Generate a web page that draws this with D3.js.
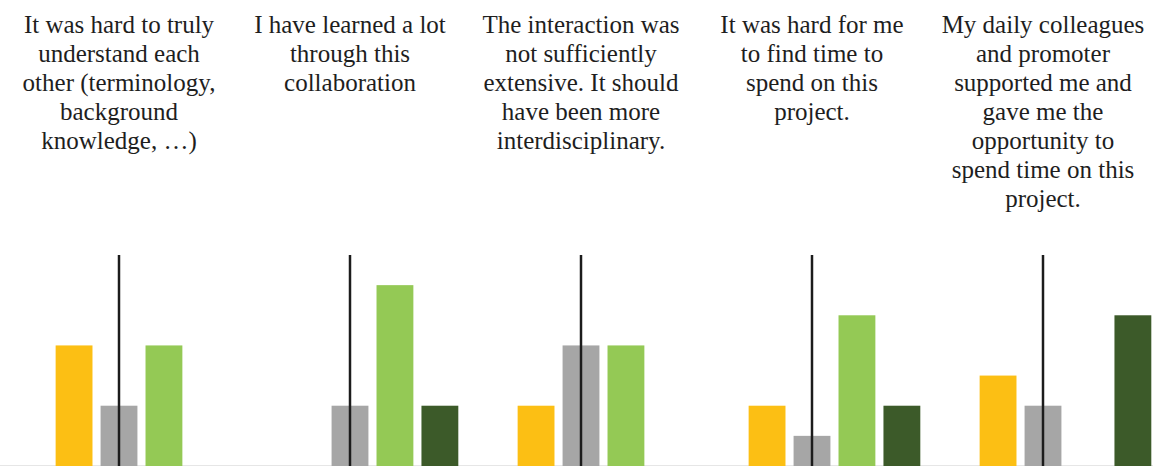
<!DOCTYPE html>
<html>
<head>
<meta charset="utf-8">
<script src="https://cdn.jsdelivr.net/npm/d3@7"></script>
<style>
  html, body { margin: 0; padding: 0; background: #ffffff; }
  svg { display: block; }
</style>
</head>
<body>
<svg id="chart" width="1153" height="466"></svg>
<script>
// Survey statements, one small multiple each (title split into display lines)
const statements = [
  ["It was hard to truly", "understand each", "other (terminology,", "background", "knowledge, …)"],
  ["I have learned a lot", "through this", "collaboration"],
  ["The interaction was", "not sufficiently", "extensive. It should", "have been more", "interdisciplinary."],
  ["It was hard for me", "to find time to", "spend on this", "project."],
  ["My daily colleagues", "and promoter", "supported me and", "gave me the", "opportunity to", "spend time on this", "project."]
];

// Likert answer categories and their colours
const answers = ["Strongly disagree", "Disagree", "Neutral", "Agree", "Strongly agree"];
const answerColors = ["#c0392b", "#fcbf14", "#a6a6a6", "#94c955", "#3c5a29"];

// Share of respondents (%) per answer, one row per statement
const q1 = [0, 40, 20, 40, 0];
const q2 = [0, 0, 20, 60, 20];
const q3 = [0, 20, 40, 40, 0];
const q4 = [0, 20, 10, 50, 20];
const q5 = [0, 30, 20, 0, 50];
const shares = [q1, q2, q3, q4, q5];

// Axis range (%)
const yMax = 70;

const svg = d3.select("#chart");
const W = 1153, H = 466;
const baseY = 466, topY = 255;
const panelW = 231, firstX = 3.5;

const panelScale = d3.scaleBand()
  .domain(d3.range(statements.length))
  .range([firstX, firstX + panelW * statements.length])
  .padding(0);

const y = d3.scaleLinear().domain([0, yMax]).range([baseY, topY]);

const color = d3.scaleOrdinal().domain(answers).range(answerColors);

// faint baseline
svg.append("line")
  .attr("x1", 0).attr("x2", W)
  .attr("y1", baseY - 0.5).attr("y2", baseY - 0.5)
  .attr("stroke", "#e6e6e6").attr("stroke-width", 1);

statements.forEach((lines, i) => {
  const px = panelScale(i);
  const x = d3.scaleBand()
    .domain(answers)
    .range([px, px + panelW])
    .paddingInner(0.18)
    .paddingOuter(0.16);

  const g = svg.append("g").attr("class", "panel");

  // bars
  g.selectAll("rect")
    .data(answers.map((a, k) => ({ answer: a, value: shares[i][k] })))
    .join("rect")
    .attr("x", d => x(d.answer))
    .attr("width", x.bandwidth())
    .attr("y", d => y(d.value))
    .attr("height", d => y(0) - y(d.value))
    .attr("fill", d => color(d.answer));

  // neutral reference line
  const cx = x("Neutral") + x.bandwidth() / 2;
  g.append("line")
    .attr("x1", cx).attr("x2", cx)
    .attr("y1", y(yMax)).attr("y2", y(0))
    .attr("stroke", "#1c1c1c")
    .attr("stroke-width", 2.5);

  // statement title
  const t = g.append("text")
    .attr("text-anchor", "middle")
    .attr("font-family", "'Liberation Serif', 'Times New Roman', serif")
    .attr("font-size", 25)
    .attr("fill", "#1e1e1e");
  lines.forEach((ln, j) => {
    t.append("tspan")
      .attr("x", cx)
      .attr("y", 33 + j * 29)
      .text(ln);
  });
});
</script>
</body>
</html>
